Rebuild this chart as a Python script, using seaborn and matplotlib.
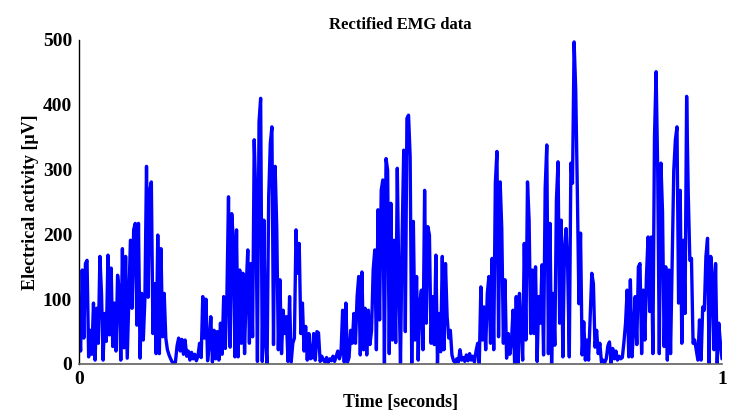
import numpy as np
import pandas as pd
import matplotlib
matplotlib.use("Agg")
import matplotlib.pyplot as plt
import seaborn as sns

# Rectified EMG samples (µV), 2.5 ms apart (rows = 50 ms)
emg_r00 = [78, 20, 145, 40, 155, 160, 11, 52, 15, 94, 6, 86, 32, 166, 109, 6, 78, 35, 168, 45]
emg_r01 = [148, 27, 94, 20, 137, 114, 6, 178, 25, 166, 9, 99, 191, 86, 207, 217, 60, 217, 9, 109]
emg_r02 = [37, 101, 305, 103, 268, 281, 47, 124, 16, 199, 16, 178, 42, 109, 40, 22, 14, 8, 3, 1]
emg_r03 = [3, 28, 40, 20, 38, 15, 37, 12, 20, 6, 18, 8, 15, 5, 12, 32, 10, 104, 40, 100]
emg_r04 = [5, 30, 73, 3, 52, 8, 50, 6, 63, 15, 104, 24, 104, 258, 26, 232, 191, 11, 207, 11]
emg_r05 = [145, 32, 140, 16, 119, 176, 32, 155, 42, 346, 258, 4, 374, 410, 4, 222, 32, 0, 258, 340]
emg_r06 = [366, 30, 305, 212, 22, 130, 16, 83, 47, 73, 4, 104, 3, 32, 40, 207, 140, 186, 47, 94]
emg_r07 = [20, 58, 6, 47, 8, 10, 47, 6, 50, 48, 4, 12, 6, 3, 10, 2, 8, 5, 12, 4]
emg_r08 = [12, 20, 8, 18, 83, 3, 94, 3, 10, 52, 32, 78, 32, 104, 135, 14, 142, 22, 86, 14]
emg_r09 = [83, 30, 52, 145, 176, 22, 238, 68, 268, 284, 1, 317, 299, 16, 248, 37, 191, 33, 302, 124]
emg_r10 = [1, 194, 330, 50, 379, 384, 320, 1, 220, 37, 135, 6, 94, 114, 22, 268, 63, 212, 199, 32]
emg_r11 = [104, 30, 168, 1, 78, 19, 166, 22, 155, 73, 40, 52, 14, 5, 2, 8, 3, 22, 6, 10]
emg_r12 = [4, 14, 5, 16, 6, 12, 3, 20, 32, 1, 119, 37, 88, 22, 109, 135, 32, 163, 22, 279]
emg_r13 = [328, 42, 281, 209, 32, 130, 9, 47, 15, 34, 83, 1, 104, 1, 109, 52, 6, 186, 37, 281]
emg_r14 = [222, 47, 145, 47, 150, 4, 104, 63, 153, 14, 271, 338, 16, 217, 1, 109, 29, 253, 312, 63]
emg_r15 = [222, 11, 176, 209, 148, 11, 310, 279, 497, 423, 268, 93, 202, 14, 65, 6, 37, 6, 73, 140]
emg_r16 = [124, 26, 52, 16, 32, 3, 6, 2, 8, 28, 34, 1, 24, 8, 20, 6, 12, 8, 10, 34]
emg_r17 = [63, 114, 11, 130, 11, 52, 104, 30, 150, 155, 16, 114, 37, 135, 196, 81, 196, 16, 350, 451]
emg_r18 = [299, 16, 310, 235, 27, 150, 6, 145, 16, 160, 299, 346, 366, 94, 268, 32, 191, 78, 413, 263]
emg_r19 = [160, 163, 32, 37, 22, 6, 68, 6, 88, 83, 166, 194, 1, 166, 135, 22, 155, 1, 63, 32]
emg_end = [8]

x_ticks = [0, 1]
y_ticks = [0, 100, 200, 300, 400, 500]
title_text = "Rectified EMG data"
x_label = "Time [seconds]"
y_label = "Electrical activity [\u03bcV]"

values = (emg_r00 + emg_r01 + emg_r02 + emg_r03 + emg_r04 + emg_r05 + emg_r06
          + emg_r07 + emg_r08 + emg_r09 + emg_r10 + emg_r11 + emg_r12 + emg_r13
          + emg_r14 + emg_r15 + emg_r16 + emg_r17 + emg_r18 + emg_r19 + emg_end)
time = np.linspace(0, 1, len(values))
df = pd.DataFrame({"t": time, "v": values})

sns.set_theme(style="white")
plt.rcParams['font.family'] = ['Liberation Serif', 'DejaVu Serif']
plt.rcParams['font.weight'] = 'bold'
plt.rcParams['text.color'] = 'black'
plt.rcParams['axes.labelcolor'] = 'black'
plt.rcParams['xtick.color'] = 'black'
plt.rcParams['ytick.color'] = 'black'

fig = plt.figure(figsize=(7.32, 4.18), dpi=100)
ax = fig.add_axes([79/732, 1-364/418, 643/732, 324/418])

sns.lineplot(data=df, x="t", y="v", ax=ax, color="#0000ff", linewidth=2.4,
             estimator=None, sort=False)

ax.set_xlim(0, 1)
ax.set_ylim(0, 500)
ax.set_xticks(x_ticks)
ax.set_xticklabels([str(v) for v in x_ticks])
ax.set_yticks(y_ticks)
ax.set_yticklabels([str(v) for v in y_ticks])
ax.tick_params(axis='both', direction='in', length=6, width=1, color='black',
               labelcolor='black', labelsize=14, pad=5)
for lab in ax.get_xticklabels() + ax.get_yticklabels():
    lab.set_fontweight('bold')

for s in ['top', 'right']:
    ax.spines[s].set_visible(False)
ax.spines['left'].set_color('black')
ax.spines['left'].set_linewidth(1.0)
ax.spines['bottom'].set_color('#606060')
ax.spines['bottom'].set_linewidth(1.2)

ax.set_title(title_text, fontsize=12, fontweight='bold', pad=8, color='black')
ax.set_xlabel(x_label, fontsize=13, fontweight='bold', labelpad=4, color='black')
ax.set_ylabel(y_label, fontsize=13, fontweight='bold', labelpad=3, color='black')

fig.savefig("out.png", dpi=100)
